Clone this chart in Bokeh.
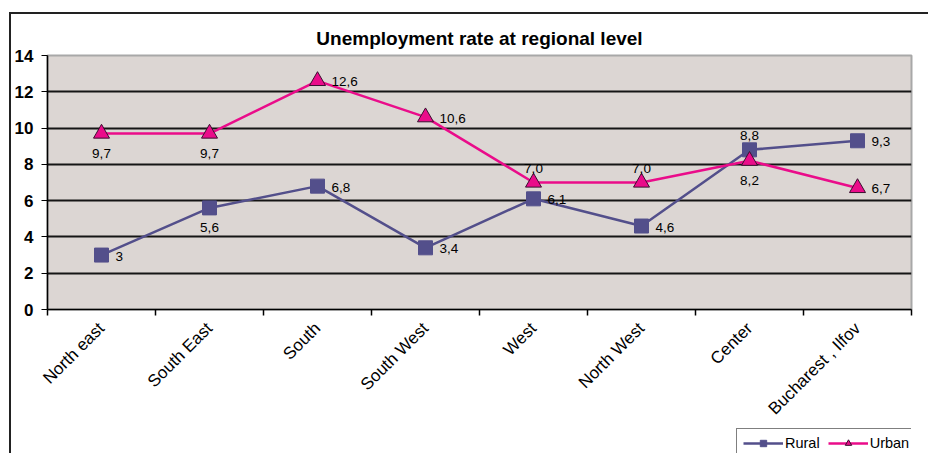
import math
from bokeh.plotting import figure
from bokeh.layouts import column
from bokeh.models import FixedTicker, Legend, LegendItem, ColumnDataSource, Range1d
from bokeh.embed import file_html
from bokeh.resources import INLINE
from bokeh.core.properties import value

# ---- data ----
categories = ["North east", "South East", "South", "South West", "West",
              "North West", "Center", "Bucharest , Ilfov"]
rural = [3.0, 5.6, 6.8, 3.4, 6.1, 4.6, 8.8, 9.3]
urban = [9.7, 9.7, 12.6, 10.6, 7.0, 7.0, 8.2, 6.7]
rural_text = ["3", "5,6", "6,8", "3,4", "6,1", "4,6", "8,8", "9,3"]
urban_text = ["9,7", "9,7", "12,6", "10,6", "7,0", "7,0", "8,2", "6,7"]
y_ticks = [0, 2, 4, 6, 8, 10, 12, 14]

# ---- label placement (style) ----
rural_pos = ["right", "below", "right", "right", "right", "right", "above", "right"]
urban_pos = ["below", "below", "right", "right", "above", "above", "below", "right"]
OFF = {"right": (14, 1, "left"), "below": (0, 20, "center"), "above": (0, -14, "center")}

RURAL_C = "#534F8B"
URBAN_C = "#EA0C8A"
TRI_EDGE = "#3a1030"
FONT = "Liberation Sans"

xs = [i + 0.5 for i in range(len(categories))]

p = figure(width=917, height=414, output_backend="svg", toolbar_location=None,
           x_range=Range1d(0, len(categories)), y_range=Range1d(0, 14),
           min_border_left=34, min_border_right=17, min_border_top=41,
           min_border_bottom=119,
           title="Unemployment rate at regional level")

p.background_fill_color = "#DCD6D3"
p.border_fill_color = "white"
p.outline_line_color = "#A8A8A8"
p.outline_line_width = 2

p.title.align = "center"
p.title.text_font = FONT
p.title.text_font_size = "19px"
p.title.text_font_style = "bold"
p.title.text_color = "black"
p.title.standoff = 14

# grid
p.xgrid.visible = False
p.ygrid.ticker = FixedTicker(ticks=y_ticks[1:-1])
p.ygrid.grid_line_color = "#151515"
p.ygrid.grid_line_width = 1.8

# y axis
p.yaxis.ticker = FixedTicker(ticks=y_ticks)
p.yaxis.axis_line_color = "black"
p.yaxis.axis_line_width = 1.5
p.yaxis.major_tick_line_color = "black"
p.yaxis.major_tick_out = 6
p.yaxis.major_tick_in = 0
p.yaxis.minor_tick_line_color = None
p.yaxis.major_label_text_font = FONT
p.yaxis.major_label_text_font_style = "bold"
p.yaxis.major_label_text_font_size = "17px"
p.yaxis.major_label_text_color = "black"
p.yaxis.major_label_standoff = 8

# x axis
p.xaxis.ticker = FixedTicker(ticks=xs, minor_ticks=list(range(len(categories) + 1)))
p.xaxis.major_label_overrides = {x: c for x, c in zip(xs, categories)}
p.xaxis.axis_line_color = "black"
p.xaxis.axis_line_width = 1.5
p.xaxis.major_tick_line_color = None
p.xaxis.minor_tick_line_color = "black"
p.xaxis.minor_tick_line_width = 1.5
p.xaxis.minor_tick_out = 6
p.xaxis.minor_tick_in = 0
p.xaxis.major_label_orientation = math.pi / 4
p.xaxis.major_label_text_font = FONT
p.xaxis.major_label_text_font_size = "17px"
p.xaxis.major_label_text_color = "black"
p.xaxis.major_label_standoff = 10

src_r = ColumnDataSource(dict(x=xs, y=rural, t=rural_text,
                              dx=[OFF[k][0] for k in rural_pos],
                              dy=[OFF[k][1] for k in rural_pos],
                              al=[OFF[k][2] for k in rural_pos]))
src_u = ColumnDataSource(dict(x=xs, y=urban, t=urban_text,
                              dx=[OFF[k][0] for k in urban_pos],
                              dy=[OFF[k][1] for k in urban_pos],
                              al=[OFF[k][2] for k in urban_pos]))

p.line("x", "y", source=src_r, line_color=RURAL_C, line_width=2.5)
p.scatter("x", "y", source=src_r, marker="square", size=14,
          fill_color=RURAL_C, line_color=RURAL_C)
p.line("x", "y", source=src_u, line_color=URBAN_C, line_width=2.5)
p.scatter("x", "y", source=src_u, marker="triangle", size=16,
          fill_color=URBAN_C, line_color=TRI_EDGE, line_width=1)

for src in (src_r, src_u):
    p.text("x", "y", text="t", source=src, x_offset="dx", y_offset="dy",
           text_align="al", text_baseline="middle",
           text_font=value(FONT), text_font_size="13.5px", text_color="black")

# ---- legend strip below the chart (series glyphs kept out of view) ----
p2 = figure(width=917, height=25, output_backend="svg", toolbar_location=None,
            x_axis_type=None, y_axis_type=None, min_border=0,
            x_range=Range1d(-100, -99), y_range=Range1d(-100, -99))
p2.outline_line_color = None
p2.xgrid.visible = False
p2.ygrid.visible = False
p2.background_fill_color = "white"
rl = p2.line("x", "y", source=src_r, line_color=RURAL_C, line_width=2.5)
rs = p2.scatter("x", "y", source=src_r, marker="square", size=10,
                fill_color=RURAL_C, line_color=RURAL_C)
ul = p2.line("x", "y", source=src_u, line_color=URBAN_C, line_width=2.5)
us = p2.scatter("x", "y", source=src_u, marker="triangle", size=12,
                fill_color=URBAN_C, line_color=TRI_EDGE, line_width=1)

legend = Legend(items=[LegendItem(label="Rural", renderers=[rl, rs]),
                       LegendItem(label="Urban", renderers=[ul, us])],
                orientation="horizontal", location=(689, -5))
legend.label_text_font = FONT
legend.label_text_font_size = "14.5px"
legend.label_text_color = "black"
legend.glyph_width = 40
legend.glyph_height = 16
legend.label_height = 16
legend.label_standoff = 2
legend.spacing = 8
legend.padding = 6
legend.margin = 0
legend.border_line_color = "black"
legend.border_line_width = 1
legend.background_fill_color = "white"
legend.background_fill_alpha = 1
p2.add_layout(legend, "center")

layout = column(p, p2, spacing=0)
layout.styles = {"border-left": "2px solid #222", "border-top": "2px solid #222",
                 "margin-top": "12px", "margin-left": "9px"}

open("out.html", "w").write(file_html(layout, INLINE))
